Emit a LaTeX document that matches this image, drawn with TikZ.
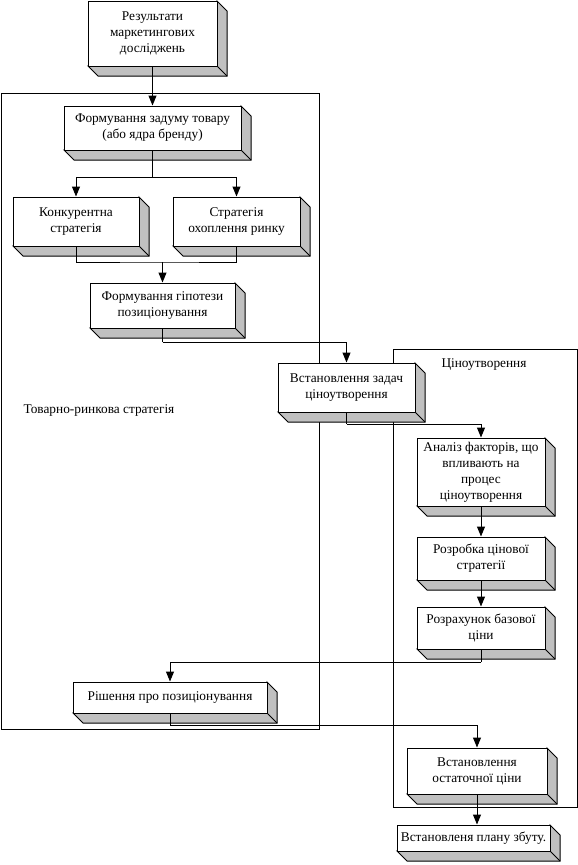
\documentclass[tikz,border=0pt]{standalone}
\usepackage{fontspec}
\setmainfont{Liberation Serif}
\usetikzlibrary{arrows.meta}
\definecolor{depthgray}{HTML}{C0C0C0}
\tikzset{
  lw/.style={line width=0.75pt},
  frontbox/.style={lw,draw=black,fill=white,inner sep=0pt,align=center,
    font=\fontsize{10}{12}\selectfont,anchor=center},
  container/.style={lw,draw=black,inner sep=0pt,anchor=north west},
  conn/.style={lw,draw=black},
  arr/.style={conn,-{Triangle[length=7.5pt,width=6pt]}},
  lbl/.style={font=\fontsize{10}{12}\selectfont,inner sep=0pt}
}
% name, x1, y1, x2, y2, text
\newcommand\tdbox[6]{%
  \filldraw[lw,fill=depthgray,draw=black,line join=miter]
    (#2,#5) -- (#2+10,#5+10) -- (#4+10,#5+10) -- (#4+10,#3+10) -- (#4,#3) -- (#4,#5) -- cycle;
  \draw[lw] (#4,#5) -- (#4+10,#5+10);
  \pgfmathsetmacro\bw{(#4-#2)*0.75}%
  \pgfmathsetmacro\bh{(#5-#3)*0.75}%
  \node[frontbox,minimum width=\bw pt,minimum height=\bh pt] (#1) at ({(#2+#4)/2},{(#3+#5)/2}) {#6};
}
\begin{document}
\begin{tikzpicture}[x=0.75pt,y=-0.75pt]
\useasboundingbox (0,0) rectangle (578,865);
% containers
\node[container,minimum width=238.5pt,minimum height=477pt] (c1) at (1,93) {};
\node[container,minimum width=138pt,minimum height=343.5pt] (c2) at (393,349) {};
\node[lbl] (c1l) at (99,410) {Товарно-ринкова стратегія};
\node[lbl] (c2l) at (484,365) {Ціноутворення};
% boxes
\tdbox{b1}{88}{1}{217}{66}{Результати\\маркетингових\\досліджень}
\tdbox{b2}{64}{106}{241}{150}{Формування задуму товару\\(або ядра бренду)}
\tdbox{b3}{13}{197}{139}{246}{Конкурентна\\стратегія}
\tdbox{b4}{173}{197}{300}{246}{Стратегія\\охоплення ринку}
\tdbox{b5}{90}{283}{235}{328}{Формування гіпотези\\позиціонування}
\tdbox{b6}{278}{363}{415}{412}{Встановлення задач\\ціноутворення}
\tdbox{b7}{417}{438}{545}{506}{Аналіз факторів, що\\впливають на\\процес\\ціноутворення}
\tdbox{b8}{417}{537}{545}{580}{Розробка цінової\\стратегії}
\tdbox{b9}{417}{607}{545}{649}{Розрахунок базової\\ціни}
\tdbox{b10}{73}{682}{267}{713}{Рішення про позиціонування}
\tdbox{b11}{407}{748}{547}{794}{Встановлення\\остаточної ціни}
\tdbox{b12}{397}{825}{550}{851}{Встановленя плану збуту.}
% junction coordinates
\coordinate (j1) at (152.5,177);
\coordinate (j2) at (162.5,262);
\coordinate (j3) at (162.5,342);
\coordinate (j4) at (346.5,424);
\coordinate (j5) at (481,662);
\coordinate (j6) at (170,725);
% connectors
\draw[arr] (b1.south) -- (b2.north);
\draw[conn] (b2.south) -- (j1);
\draw[arr] (j1) -| (b3.north);
\draw[arr] (j1) -| (b4.north);
\draw[conn] (b3.south) |- (j2) -| (b4.south);
\draw[arr] (j2) -- (b5.north);
\draw[conn] (b5.south) -- (j3);
\draw[arr] (j3) -| (b6.north);
\draw[conn] (b6.south) -- (j4);
\draw[arr] (j4) -| (b7.north);
\draw[arr] (b7.south) -- (b8.north);
\draw[arr] (b8.south) -- (b9.north);
\draw[conn] (b9.south) -- (j5);
\draw[arr] (j5) -| (b10.north);
\draw[conn] (b10.south) -- (j6);
\draw[arr] (j6) -| (b11.north);
\draw[arr] (b11.south) -- (b11.south |- b12.north);
\end{tikzpicture}
\end{document}
